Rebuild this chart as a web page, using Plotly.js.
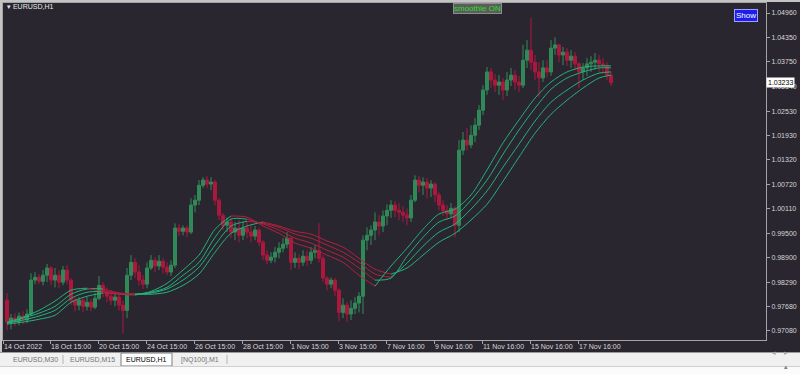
<!DOCTYPE html>
<html><head><meta charset="utf-8">
<script src="https://cdn.plot.ly/plotly-3.0.1.min.js"></script>
<style>html,body{margin:0;padding:0;background:#2a2630;overflow:hidden}#chart{width:800px;height:374px}</style>
</head><body><div id="chart"></div>
<script>
// ---- data (EURUSD H1, grouped bars) ----
const openP = [0.9784,0.9730,0.9740,0.9730,0.9745,0.9735,0.9750,0.9834,0.9841,0.9831,
 0.9846,0.9864,0.9834,0.9846,0.9829,0.9859,0.9834,0.9784,0.9772,0.9784,
 0.9769,0.9779,0.9767,0.9789,0.9821,0.9804,0.9794,0.9784,0.9792,0.9772,
 0.9759,0.9846,0.9878,0.9854,0.9834,0.9824,0.9864,0.9883,0.9869,0.9881,
 0.9866,0.9854,0.9871,0.9963,0.9955,0.9963,0.9953,1.0020,1.0032,1.0069,
 1.0082,1.0072,1.0077,1.0032,0.9995,0.9970,0.9978,0.9953,0.9963,0.9945,
 0.9963,0.9953,0.9943,0.9958,0.9928,0.9896,0.9883,0.9891,0.9903,0.9913,
 0.9923,0.9938,0.9878,0.9888,0.9878,0.9893,0.9883,0.9903,0.9908,0.9888,
 0.9839,0.9824,0.9834,0.9809,0.9754,0.9772,0.9750,0.9764,0.9777,0.9794,
 0.9933,0.9945,0.9958,0.9978,0.9968,0.9993,1.0007,1.0020,1.0007,1.0002,
 0.9995,0.9988,1.0032,1.0082,1.0069,1.0077,1.0062,1.0072,1.0045,1.0020,
 1.0007,0.9998,1.0012,0.9970,1.0156,1.0181,1.0169,1.0193,1.0218,1.0255,
 1.0305,1.0350,1.0330,1.0317,1.0325,1.0305,1.0330,1.0342,1.0325,1.0317,
 1.0379,1.0404,1.0374,1.0350,1.0335,1.0360,1.0350,1.0409,1.0417,1.0392,
 1.0399,1.0379,1.0389,1.0370,1.0350,1.0360,1.0370,1.0374,1.0379,1.0370,
 1.0365,1.0342];
const highP = [0.9802,0.9750,0.9752,0.9754,0.9757,0.9762,0.9851,0.9854,0.9849,0.9859,
 0.9874,0.9869,0.9864,0.9859,0.9869,0.9871,0.9839,0.9794,0.9792,0.9789,
 0.9792,0.9787,0.9802,0.9844,0.9829,0.9816,0.9809,0.9804,0.9799,0.9784,
 0.9864,0.9896,0.9888,0.9871,0.9846,0.9878,0.9896,0.9891,0.9896,0.9888,
 0.9878,0.9883,0.9975,0.9973,0.9970,0.9970,1.0037,1.0045,1.0082,1.0089,
 1.0092,1.0089,1.0082,1.0037,1.0000,0.9990,0.9988,0.9978,0.9983,0.9978,
 0.9980,0.9970,0.9968,0.9963,0.9933,0.9908,0.9903,0.9916,0.9928,0.9938,
 0.9953,0.9943,0.9903,0.9898,0.9908,0.9906,0.9916,0.9921,0.9975,0.9896,
 0.9844,0.9841,0.9839,0.9814,0.9789,0.9779,0.9784,0.9792,0.9804,0.9945,
 0.9965,0.9970,1.0002,0.9995,1.0007,1.0022,1.0032,1.0030,1.0025,1.0017,
 1.0012,1.0045,1.0094,1.0092,1.0089,1.0087,1.0082,1.0077,1.0052,1.0032,
 1.0020,1.0025,1.0017,1.0181,1.0201,1.0211,1.0218,1.0236,1.0268,1.0317,
 1.0362,1.0360,1.0345,1.0342,1.0335,1.0350,1.0360,1.0355,1.0340,1.0417,
 1.0429,1.0484,1.0392,1.0374,1.0379,1.0379,1.0429,1.0436,1.0419,1.0412,
 1.0409,1.0404,1.0399,1.0374,1.0372,1.0384,1.0389,1.0397,1.0392,1.0384,
 1.0374,1.0350];
const lowP = [0.9710,0.9712,0.9720,0.9722,0.9725,0.9727,0.9745,0.9824,0.9824,0.9821,
 0.9829,0.9821,0.9816,0.9814,0.9821,0.9824,0.9772,0.9757,0.9759,0.9754,
 0.9759,0.9757,0.9762,0.9784,0.9792,0.9779,0.9772,0.9769,0.9759,0.9702,
 0.9740,0.9834,0.9839,0.9821,0.9812,0.9814,0.9859,0.9854,0.9859,0.9851,
 0.9846,0.9844,0.9864,0.9943,0.9945,0.9940,0.9948,1.0002,1.0020,1.0062,
 1.0062,1.0057,1.0020,0.9983,0.9958,0.9953,0.9938,0.9933,0.9928,0.9933,
 0.9938,0.9928,0.9933,0.9918,0.9883,0.9874,0.9876,0.9878,0.9888,0.9903,
 0.9913,0.9859,0.9864,0.9861,0.9869,0.9869,0.9874,0.9888,0.9878,0.9829,
 0.9809,0.9814,0.9794,0.9732,0.9740,0.9730,0.9735,0.9750,0.9754,0.9750,
 0.9908,0.9921,0.9933,0.9945,0.9953,0.9970,0.9988,0.9990,0.9983,0.9978,
 0.9970,0.9978,1.0027,1.0052,1.0045,1.0037,1.0040,1.0027,1.0007,0.9993,
 0.9983,0.9988,0.9940,0.9953,1.0144,1.0156,1.0161,1.0176,1.0206,1.0243,
 1.0293,1.0310,1.0300,1.0293,1.0280,1.0290,1.0315,1.0305,1.0300,1.0310,
 1.0360,1.0355,1.0330,1.0288,1.0325,1.0337,1.0340,1.0392,1.0374,1.0367,
 1.0365,1.0360,1.0355,1.0310,1.0330,1.0340,1.0350,1.0355,1.0350,1.0345,
 1.0330,1.0315];
const closeP = [0.9730,0.9740,0.9730,0.9745,0.9735,0.9750,0.9834,0.9841,0.9831,0.9846,
 0.9864,0.9834,0.9846,0.9829,0.9859,0.9834,0.9784,0.9772,0.9784,0.9769,
 0.9779,0.9767,0.9789,0.9821,0.9804,0.9794,0.9784,0.9792,0.9772,0.9759,
 0.9846,0.9878,0.9854,0.9834,0.9824,0.9864,0.9883,0.9869,0.9881,0.9866,
 0.9854,0.9871,0.9963,0.9955,0.9963,0.9953,1.0020,1.0032,1.0069,1.0082,
 1.0072,1.0077,1.0032,0.9995,0.9970,0.9978,0.9953,0.9963,0.9945,0.9963,
 0.9953,0.9943,0.9958,0.9928,0.9896,0.9883,0.9891,0.9903,0.9913,0.9923,
 0.9938,0.9878,0.9888,0.9878,0.9893,0.9883,0.9903,0.9908,0.9888,0.9839,
 0.9824,0.9834,0.9809,0.9754,0.9772,0.9750,0.9764,0.9777,0.9794,0.9933,
 0.9945,0.9958,0.9978,0.9968,0.9993,1.0007,1.0020,1.0007,1.0002,0.9995,
 0.9988,1.0032,1.0082,1.0069,1.0077,1.0062,1.0072,1.0045,1.0020,1.0007,
 0.9998,1.0012,0.9970,1.0156,1.0181,1.0169,1.0193,1.0218,1.0255,1.0305,
 1.0350,1.0330,1.0317,1.0325,1.0305,1.0330,1.0342,1.0325,1.0317,1.0379,
 1.0404,1.0374,1.0350,1.0335,1.0360,1.0350,1.0409,1.0417,1.0392,1.0399,
 1.0379,1.0389,1.0370,1.0350,1.0360,1.0370,1.0374,1.0379,1.0370,1.0365,
 1.0342,1.03233];

// smoothed averages, sampled at these bar numbers
const maBar = [0,4,8,12,16,20,24,28,32,36,40,44,48,52,56,60,64,68,72,76,80,84,88,92,96,100,104,108,112,116,120,124,128,132,136,140,144,148,151];
const ma1 = [0.9730,0.9742,0.9759,0.9782,0.9809,0.9814,0.9806,0.9799,0.9797,0.9806,0.9826,0.9859,0.9896,0.9960,0.9993,0.9990,0.9968,0.9950,0.9926,0.9913,0.9896,0.9878,0.9846,0.9819,0.9869,0.9913,0.9960,0.9998,1.0010,1.0045,1.0107,1.0174,1.0231,1.0285,1.0325,1.0350,1.0362,1.0365,1.0365];
const ma2 = [0.9727,0.9740,0.9752,0.9769,0.9799,0.9812,0.9812,0.9802,0.9799,0.9804,0.9816,0.9846,0.9878,0.9940,0.9985,0.9985,0.9973,0.9958,0.9938,0.9926,0.9908,0.9891,0.9864,0.9834,0.9839,0.9893,0.9940,0.9978,0.9993,1.0032,1.0082,1.0146,1.0206,1.0260,1.0307,1.0335,1.0350,1.0360,1.0360];
const ma3 = [0.9727,0.9735,0.9745,0.9759,0.9789,0.9804,0.9806,0.9802,0.9799,0.9802,0.9812,0.9834,0.9866,0.9921,0.9968,0.9980,0.9975,0.9965,0.9948,0.9938,0.9921,0.9903,0.9878,0.9849,0.9841,0.9876,0.9918,0.9953,0.9973,1.0010,1.0055,1.0114,1.0171,1.0228,1.0275,1.0305,1.0330,1.0347,1.0350];
const ma4 = [0.9725,0.9730,0.9737,0.9747,0.9779,0.9794,0.9802,0.9799,0.9799,0.9799,0.9804,0.9821,0.9849,0.9903,0.9950,0.9968,0.9978,0.9968,0.9955,0.9948,0.9931,0.9916,0.9888,0.9861,0.9849,0.9864,0.9896,0.9928,0.9950,0.9983,1.0022,1.0079,1.0139,1.0198,1.0245,1.0280,1.0310,1.0335,1.0342];

const priceTicks = [0.9708,0.9768,0.9829,0.9890,0.9950,1.0011,1.0072,1.0132,1.0193,1.0253,1.0314,1.0375,1.0435,1.0496];
const priceTickText = ['0.97080','0.97680','0.98290','0.98900','0.99500','1.00110','1.00720','1.01320','1.01930','1.02530','1.03140','1.03750','1.04350','1.04960'];
const dateTickBars = [-1,10.75,22.75,34.75,46.75,58.75,70.75,82.75,94.75,106.75,118.75,130.75,142.75];
const dateLabels = ['14 Oct 2022','18 Oct 15:00','20 Oct 15:00','24 Oct 15:00','26 Oct 15:00','28 Oct 15:00','1 Nov 15:00','3 Nov 15:00','7 Nov 16:00','9 Nov 16:00','11 Nov 16:00','15 Nov 16:00','17 Nov 16:00'];
const tabNames = ['EURUSD,M30','EURUSD,M15','EURUSD,H1','[NQ100],M1'];

// ---- styling ----
const BG = '#2a2630';
const FONT = '"Liberation Sans", Arial, sans-serif';
const UPC = '#2f8a58', DNC = '#ad173e';
const MAUP = '#23b27a', MADN = '#b3203f';
const AX = '#a4a4a4';
const PX = p => (p - 3) / 763;
const PY = p => (340 - p) / 337;

const barIndex = closeP.map((_, i) => i);
const traces = [{
  type: 'candlestick', x: barIndex, open: openP, high: highP, low: lowP, close: closeP,
  increasing: {line: {color: UPC, width: 1}, fillcolor: UPC},
  decreasing: {line: {color: DNC, width: 1}, fillcolor: DNC},
  whiskerwidth: 0, hoverinfo: 'none', showlegend: false
}];

function addLine(vals) {
  const up = k => vals[k + 1] >= vals[k];
  let k = 0;
  while (k < vals.length - 1) {
    const dir = up(k);
    let j = k;
    while (j < vals.length - 1 && up(j) === dir) j++;
    traces.push({type: 'scatter', mode: 'lines', x: maBar.slice(k, j + 1), y: vals.slice(k, j + 1),
      line: {color: dir ? MAUP : MADN, width: 1, shape: 'spline', smoothing: 0.8},
      hoverinfo: 'skip', showlegend: false});
    k = j;
  }
}
[ma4, ma3, ma2, ma1].forEach(addLine);

const tabX = [35, 92, 146, 200];
const annotations = [
  {text: '▾ EURUSD,H1', x: PX(5), y: PY(7), xref: 'paper', yref: 'paper', xanchor: 'left', yanchor: 'middle', showarrow: false, font: {size: 7, color: '#e8e8e8', family: FONT}},
  {text: 'smoothie ON', x: PX(477), y: PY(3), xref: 'paper', yref: 'paper', xanchor: 'center', yanchor: 'top', showarrow: false, bgcolor: '#5c5c5c', bordercolor: '#8c8c8c', borderwidth: 1, borderpad: 0, font: {size: 8, color: '#22e022', family: FONT}},
  {text: 'Show', x: PX(746), y: PY(15.5), xref: 'paper', yref: 'paper', xanchor: 'center', yanchor: 'middle', showarrow: false, bgcolor: '#1e1eeb', bordercolor: '#a0a0ff', borderwidth: 1, borderpad: 1, font: {size: 8, color: '#ffffff', family: FONT}},
  {text: closeP[closeP.length - 1].toFixed(5), x: 1, y: closeP[closeP.length - 1], xref: 'paper', yref: 'y', xanchor: 'left', yanchor: 'middle', showarrow: false, bgcolor: '#ffffff', borderpad: 1, font: {size: 7, color: '#000000', family: FONT}},
  {text: '◂', x: PX(778), y: PY(358), xref: 'paper', yref: 'paper', showarrow: false, font: {size: 7, color: '#a8a8a8'}},
  {text: '▸', x: PX(790), y: PY(358), xref: 'paper', yref: 'paper', showarrow: false, font: {size: 7, color: '#a8a8a8'}},
  {text: '▴', x: PX(790), y: PY(372), xref: 'paper', yref: 'paper', showarrow: false, font: {size: 7, color: '#808080'}}
];
tabNames.forEach((t, i) => annotations.push({text: t, x: PX(tabX[i]), y: PY(359.5), xref: 'paper', yref: 'paper', xanchor: 'center', yanchor: 'middle', showarrow: false, font: {size: 7, color: i === 2 ? '#000000' : '#747474', family: FONT}}));

const rect = (x0, y0, x1, y1, fill, line) => ({type: 'rect', xref: 'paper', yref: 'paper', x0: PX(x0), x1: PX(x1), y0: PY(y0), y1: PY(y1), fillcolor: fill, line: {color: line || fill, width: line ? 1 : 0}, layer: 'above'});
const vline = (x, y0, y1, c) => ({type: 'line', xref: 'paper', yref: 'paper', x0: PX(x), x1: PX(x), y0: PY(y0), y1: PY(y1), line: {color: c, width: 1}, layer: 'above'});
const hline = (y, x0, x1, c) => ({type: 'line', xref: 'paper', yref: 'paper', x0: PX(x0), x1: PX(x1), y0: PY(y), y1: PY(y), line: {color: c, width: 1}, layer: 'above'});
const shapes = [
  rect(0, 0, 800, 2, '#c4c4c4'),
  rect(0, 0, 2, 352, '#c4c4c4'),
  rect(0, 352, 800, 366, '#f0f0f0'),
  hline(352.5, 0, 800, '#9a9a9a'),
  rect(121, 353, 172, 366, '#ffffff', '#7c7c7c'),
  vline(63, 355, 364, '#b4b4b4'),
  vline(227, 355, 364, '#b4b4b4'),
  rect(0, 366, 800, 374, '#fbfbfb'),
  hline(366.5, 0, 800, '#cfcfcf')
];

const layout = {
  width: 800, height: 374,
  margin: {l: 3, r: 34, t: 3, b: 34, pad: 0},
  paper_bgcolor: BG, plot_bgcolor: BG,
  showlegend: false, hovermode: false,
  font: {family: FONT, size: 7, color: '#d6d6d6'},
  boxgap: 0.25, boxgroupgap: 0,
  xaxis: {range: [-1, 189.75], rangeslider: {visible: false}, showgrid: false, zeroline: false,
    showline: true, linecolor: AX, linewidth: 1, mirror: true, ticks: 'outside', ticklen: 3, tickcolor: AX,
    tickmode: 'array', tickvals: dateTickBars, ticktext: dateLabels, ticklabelposition: 'outside right',
    tickangle: 0, automargin: false,
    tickfont: {size: 7, color: '#d6d6d6', family: FONT}, fixedrange: true},
  yaxis: {side: 'right', range: [0.96856, 1.05208], showgrid: false, zeroline: false,
    showline: true, linecolor: AX, linewidth: 1, mirror: true, ticks: 'outside', ticklen: 3, tickcolor: AX,
    tickmode: 'array', tickvals: priceTicks, ticktext: priceTickText, automargin: false,
    tickfont: {size: 7, color: '#d6d6d6', family: FONT}, fixedrange: true},
  shapes: shapes, annotations: annotations
};
Plotly.newPlot('chart', traces, layout, {displayModeBar: false, staticPlot: true});
</script></body></html>
